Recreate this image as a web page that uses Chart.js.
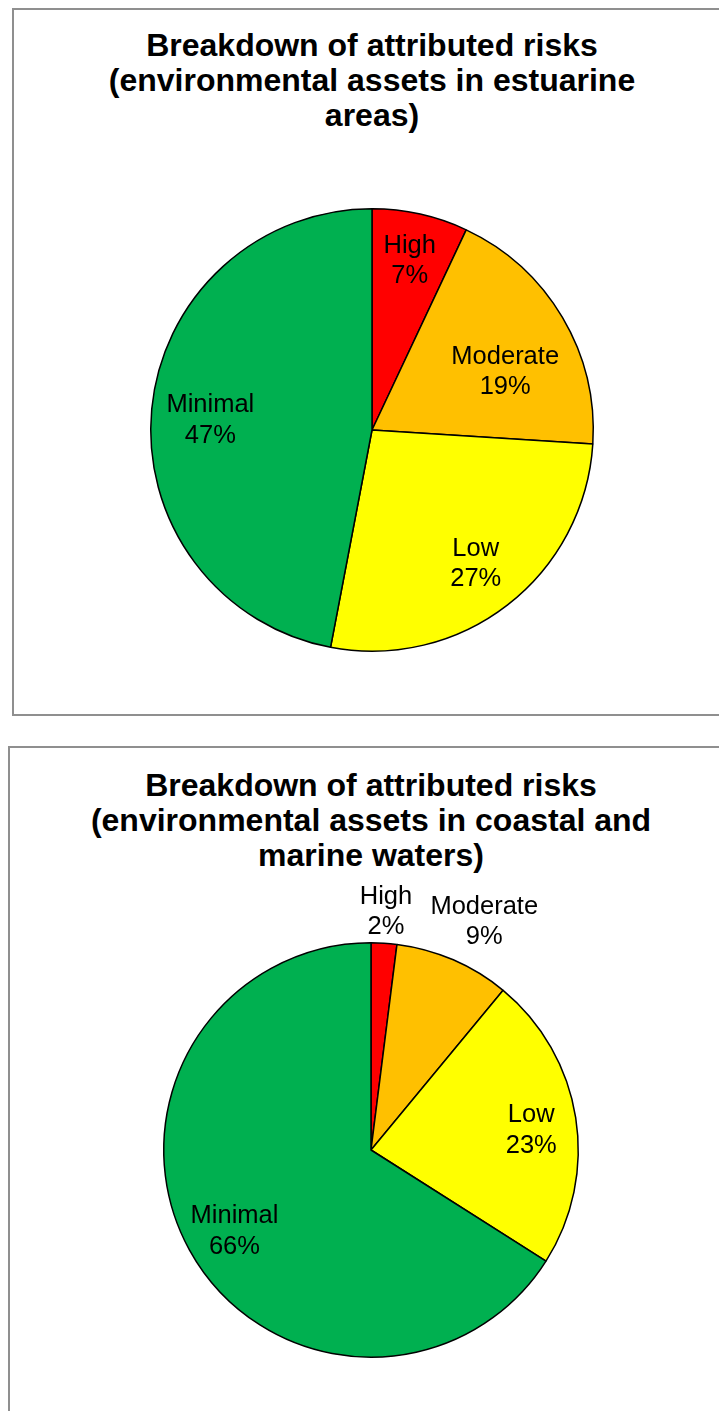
<!DOCTYPE html>
<html>
<head>
<meta charset="utf-8">
<script src="https://cdn.jsdelivr.net/npm/chart.js@4.4.1/dist/chart.umd.min.js"></script>
<style>
  html, body { margin: 0; padding: 0; background: #fff; overflow: hidden; }
  body { position: relative; width: 719px; height: 1411px; font-family: "Liberation Sans", Arial, sans-serif; }
  .frame { position: absolute; box-sizing: border-box; border: 2px solid #8f8f8f; background: #fff; }
  .title { position: absolute; text-align: center; font-weight: bold; font-size: 32px; line-height: 35px; color: #000; white-space: nowrap; }
  canvas { position: absolute; }
</style>
</head>
<body>
<div class="frame" style="left:12px; top:8px; width:720px; height:708px;"></div>
<div class="frame" style="left:8px; top:746px; width:724px; height:700px;"></div>

<div class="title" id="title1" style="left:72px; width:600px; top:28px;"></div>
<div class="title" id="title2" style="left:71px; width:600px; top:768px;"></div>

<canvas id="pieEstuarine" width="716" height="560" style="left:14px; top:150px;"></canvas>
<canvas id="pieCoastal" width="722" height="531" style="left:10px; top:880px;"></canvas>

<script>
// Risk categories, in drawing order (clockwise from 12 o'clock)
const riskCategories = ['High', 'Moderate', 'Low', 'Minimal'];

// Share of attributed risk (%) for each category
const estuarineShares = [7, 19, 27, 47];
const coastalMarineShares = [2, 9, 23, 66];

// Chart titles, one entry per line
const estuarineTitle = ['Breakdown of attributed risks', '(environmental assets in estuarine', 'areas)'];
const coastalMarineTitle = ['Breakdown of attributed risks', '(environmental assets in coastal and', 'marine waters)'];

const riskColours = ['#FF0000', '#FFC000', '#FFFF00', '#00B050'];

document.getElementById('title1').innerHTML = estuarineTitle.join('<br>');
document.getElementById('title2').innerHTML = coastalMarineTitle.join('<br>');

// Draws "Category / NN%" labels at a radial fraction along each slice's mid-angle
const sliceLabels = {
  id: 'sliceLabels',
  afterDatasetsDraw(chart, args, opts) {
    const ctx = chart.ctx;
    const meta = chart.getDatasetMeta(0);
    const values = chart.data.datasets[0].data;
    ctx.save();
    ctx.font = opts.font;
    ctx.fillStyle = '#000';
    ctx.textAlign = 'center';
    ctx.textBaseline = 'middle';
    meta.data.forEach((arc, i) => {
      const p = arc.getProps(['x', 'y', 'startAngle', 'endAngle', 'outerRadius'], true);
      const mid = (p.startAngle + p.endAngle) / 2 + (opts.angleShift[i] || 0) * Math.PI / 180;
      const r = p.outerRadius * opts.radius[i];
      const cx = p.x + Math.cos(mid) * r;
      const cy = p.y + Math.sin(mid) * r;
      const half = opts.lineGap / 2;
      ctx.fillText(chart.data.labels[i], cx, cy - half);
      ctx.fillText(values[i] + '%', cx, cy + half);
    });
    ctx.restore();
  }
};

function makePie(id, shares, padding, labelOpts) {
  return new Chart(document.getElementById(id), {
    type: 'pie',
    data: {
      labels: riskCategories,
      datasets: [{
        data: shares,
        backgroundColor: riskColours,
        borderColor: '#000',
        borderWidth: 1.5
      }]
    },
    options: {
      responsive: false,
      devicePixelRatio: 1,
      animation: false,
      layout: { padding: padding },
      plugins: {
        legend: { display: false },
        tooltip: { enabled: false },
        title: { display: false },
        sliceLabels: Object.assign({ font: '25.5px "Liberation Sans", Arial, sans-serif', lineGap: 30.5 }, labelOpts)
      }
    },
    plugins: [sliceLabels]
  });
}

makePie('pieEstuarine', estuarineShares,
  { top: 58, bottom: 58, left: 0, right: 0 },
  { radius: [0.782, 0.657, 0.765, 0.732], angleShift: [0, 7, 0, -2] });

makePie('pieCoastal', coastalMarineShares,
  { top: 62, bottom: 53, left: 0, right: 0 },
  { radius: [1.152, 1.229, 0.779, 0.767], angleShift: [0, 3, 2, -2] });
</script>
</body>
</html>
